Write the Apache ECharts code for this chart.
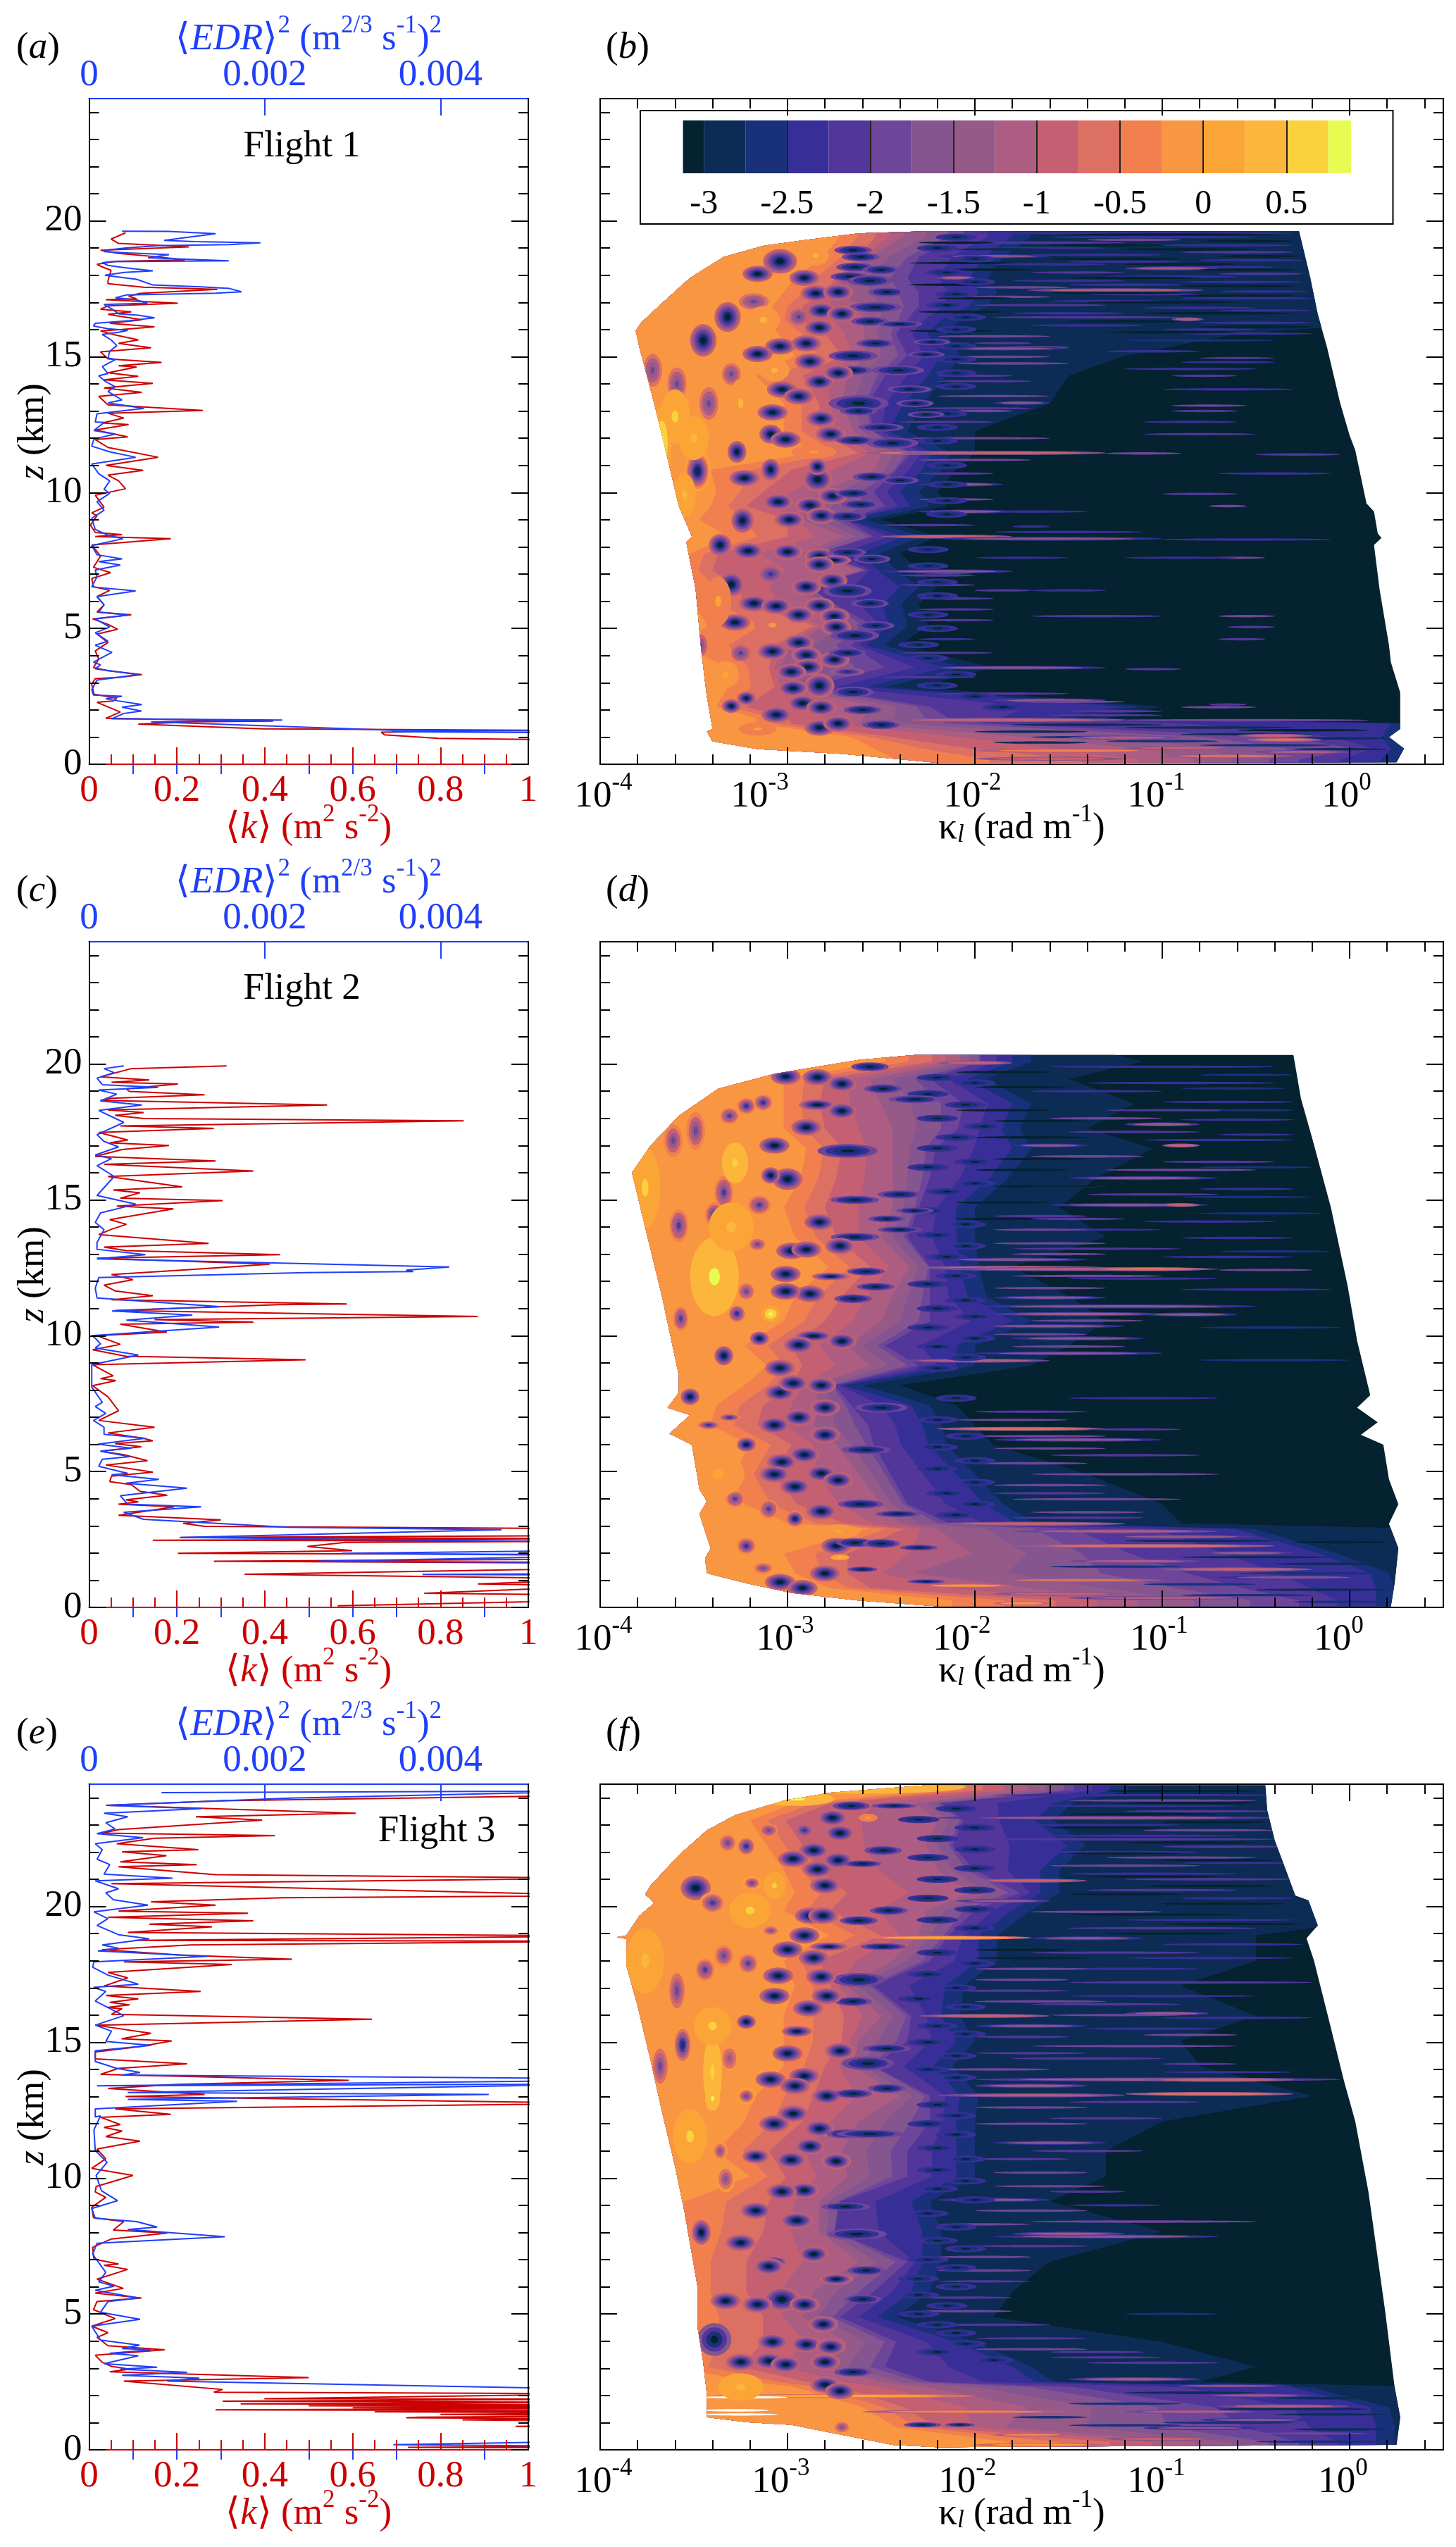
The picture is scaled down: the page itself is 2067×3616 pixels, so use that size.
<!DOCTYPE html><html><head><meta charset="utf-8"><style>html,body{margin:0;background:#fff}#c{width:2067px;height:3616px}</style>
<script src="https://cdn.jsdelivr.net/npm/echarts@6/dist/echarts.min.js"></script></head><body><div id="c"></div><script>
const levelColors=['#04222f','#0d2c55','#18317a','#372f97','#52369a','#6e4699','#84558f','#965a89','#ad5c82','#c56072','#dc7063','#f2804f','#f99642','#fca537','#fcb63c','#f9d23e','#e8fb52'];
const cbarEdges=[-3.125,-3,-2.75,-2.5,-2.25,-2,-1.75,-1.5,-1.25,-1,-0.75,-0.5,-0.25,0,0.25,0.5,0.75,0.888];
// left-hand profiles: flat lists of value, z. edr* are in units of 0.005 (full top axis)
const k1=[.083,19.56,.05,19.33,.067,19.17,.227,19.04,.026,18.92,.067,18.8,.16,18.67,.218,18.56,.06,18.51,.018,18.4,.026,18.33,.05,18.18,.043,17.8,.043,17.69,.124,17.56,.292,17.48,.116,17.33,.09,17.23,.108,17.13,.038,17.1,.202,16.97,.043,16.87,.026,16.75,.096,16.65,.043,16.56,.12,16.36,.047,16.23,.149,16.1,.075,16,.026,15.95,.059,15.8,.112,15.62,.067,15.49,.141,15.33,.026,15.18,.043,14.92,.165,14.79,.067,14.67,.108,14.62,.043,14.41,.112,14.28,.034,14.15,.145,14.02,.034,13.85,.12,13.69,.022,13.54,.043,13.23,.259,13.02,.043,12.92,.079,12.74,.03,12.56,.09,12.5,.014,12.3,.088,12.05,.014,11.95,.043,11.66,.157,11.3,.038,11,.123,10.82,.043,10.64,.067,10.43,.083,10.14,.014,9.9,.034,9.46,.006,9.25,.018,9.15,.003,8.8,.014,8.53,.075,8.45,.014,8.38,.186,8.3,.006,8.07,.026,7.66,.01,7.25,.049,7.05,.006,6.84,.01,6.53,.047,6.4,.018,6.17,.034,5.87,.018,5.6,.096,5.5,.008,5.35,.043,5.15,.065,4.97,.018,4.79,.043,4.48,.014,4.17,.022,3.87,.01,3.56,.043,3.44,.12,3.3,.071,3.2,.014,3.15,.006,2.94,.011,2.58,.063,2.43,.055,2.33,.018,2.28,.071,1.92,.038,1.69,.419,1.59,.235,1.56,.112,1.48,.394,1.3,1,1.25,.665,1.18,.673,1.08,.795,.95,1.2,.88];
const edr1=[.075,19.62,.18,19.61,.288,19.53,.171,19.28,.24,19.24,.39,19.19,.32,19.13,.157,19.09,.08,19,.038,18.92,.034,18.87,.087,18.82,.182,18.76,.134,18.64,.318,18.53,.05,18.5,.03,18.46,.043,18.36,.08,18.28,.145,18.16,.08,18.1,.036,18,.06,17.95,.108,17.85,.145,17.64,.255,17.57,.32,17.51,.347,17.39,.288,17.34,.084,17.27,.06,17.17,.108,17.09,.133,16.97,.034,16.92,.05,16.78,.067,16.58,.112,16.53,.149,16.43,.092,16.33,.014,16.23,.01,16.13,.043,16.03,.088,15.97,.067,15.9,.03,15.82,.05,15.62,.063,15.41,.047,15.2,.043,14.95,.06,14.9,.03,14.64,.043,14.38,.022,14.3,.038,14.08,.059,13.9,.043,13.72,.075,13.41,.043,13.3,.125,13.1,.018,12.9,.014,12.6,.034,12.58,.011,12.28,.059,12.15,.011,11.97,.006,11.71,.047,11.5,.106,11.3,.006,11.05,.022,10.69,.047,10.43,.034,10.12,.047,9.97,.018,9.66,.034,9.35,.006,9.05,.014,8.64,.043,8.43,.077,8.3,.006,8.05,.018,7.71,.075,7.56,.022,7.46,.071,7.33,.014,7.15,.018,6.9,.006,6.53,.106,6.38,.018,6.17,.034,5.87,.022,5.6,.088,5.49,.014,5.35,.047,5.05,.014,4.84,.043,4.53,.014,4.38,.052,4.12,.01,3.76,.026,3.66,.014,3.51,.112,3.3,.018,3.1,.006,2.74,.01,2.55,.075,2.5,.038,2.41,.067,2.33,.12,2.2,.075,2.1,.119,1.96,.079,1.87,.051,1.67,.44,1.63,.141,1.56,.69,1.25,1.2,1.22,1.2,1.15,.69,1.2];
const k2=[.313,19.93,.096,19.83,.026,19.53,.137,19.41,.051,19.33,.202,19.26,.084,19.09,.092,18.99,.263,18.87,.051,18.74,.026,18.66,.542,18.49,.043,18.31,.124,18.21,.059,18.11,.124,17.99,.853,17.91,.071,17.72,.284,17.63,.022,17.48,.088,17.2,.047,17.1,.182,17,.075,16.85,.014,16.6,.288,16.43,.034,16.31,.374,16.06,.043,15.86,.212,15.48,.055,15.36,.116,15.26,.071,15.06,.304,14.97,.063,14.77,.192,14.67,.047,14.27,.085,14.1,.051,13.92,.022,13.72,.272,13.4,.034,13.26,.084,13.13,.435,12.98,.018,12.85,.411,12.63,.247,12.45,.051,12.25,.1,12.06,.034,11.86,.059,11.65,.145,11.47,.051,11.32,.587,11.17,.431,11.14,.059,10.93,.885,10.71,.149,10.59,.374,10.5,.071,10.42,.177,10.13,.018,10,.071,9.68,.008,9.48,.084,9.24,.493,9.11,.008,8.93,.055,8.52,.026,8.42,.061,8.35,.008,8.16,.043,7.75,.067,7.24,.022,6.88,.149,6.63,.043,6.42,.124,6.22,.145,6.13,.059,6.03,.119,5.91,.026,5.75,.079,5.62,.133,5.4,.038,5.24,.145,4.98,.051,4.83,.047,4.63,.096,4.52,.116,4.27,.178,4.13,.084,3.96,.112,3.88,.067,3.8,.194,3.7,.067,3.39,.3,3.22,.214,3.09,.263,2.98,1.2,2.89,1.2,2.65,.206,2.57,1.2,2.53,.145,2.47,1.2,2.44,.583,2.39,.497,2.24,.599,2.09,.202,1.99,1.2,1.94,1.2,1.78,.284,1.7,1.2,1.62,1.2,1.45,.354,1.22,1.2,1.05,.885,.86,1.2,.8,.763,.52,1.2,.45,1.2,.27,.566,.06];
const edr2=[.079,19.93,.034,19.83,.057,19.68,.018,19.48,.03,19.24,.157,19.14,.022,19.04,.063,18.89,.026,18.64,.12,18.49,.022,18.29,.079,17.85,.018,17.4,.034,17.15,.067,16.95,.014,16.65,.051,16.52,.018,16.26,.057,15.86,.018,15.16,.106,14.84,.026,14.52,.014,14.17,.034,13.9,.018,13.43,.018,13.18,.128,12.98,.018,12.83,.82,12.53,.722,12.41,.738,12.36,.493,12.32,.022,12.14,.014,11.75,.018,11.39,.296,11.07,.052,10.91,.235,10.76,.085,10.57,.296,10.32,.006,10,.014,9.91,.026,9.7,.014,9.55,.112,9.29,.006,8.93,.006,8.37,.006,8.11,.03,7.55,.014,7.39,.038,7.14,.01,6.88,.034,6.63,.034,6.37,.127,6.22,.02,6.01,.096,5.86,.026,5.75,.093,5.55,.03,5.45,.022,5.19,.088,4.93,.051,4.88,.159,4.71,.084,4.57,.223,4.39,.071,4.11,.088,3.8,.255,3.7,.079,3.5,.124,3.24,.452,2.95,.939,2.86,.21,2.57,1.2,2.4,1.2,2.1,.575,1.99,1.2,1.9,.521,1.7,1.2,1.65,1.2,1.25,.759,1.21,1.2,1.19];
const k3=[1.2,24.1,.304,23.89,.043,23.72,.607,23.43,.243,23.3,.394,23.18,.067,22.83,.03,22.7,.423,22.61,.149,22.51,.063,22.31,.249,22.09,.075,22.01,.176,21.87,.071,21.64,.245,21.54,.067,21.46,.288,21.17,1.2,21.04,.051,20.84,1.2,20.4,.44,20.32,.141,20.17,.288,20.05,.067,19.83,.362,19.75,.043,19.6,.374,19.47,.137,19.35,.28,19.25,.088,19.04,1.2,18.91,.104,18.75,1.2,18.72,.231,18.58,.03,18.41,.206,18.21,.462,18.06,.079,17.96,.325,17.86,.043,17.57,.088,17.37,.034,17.07,.254,16.87,.038,16.72,.112,16.6,.047,16.47,.092,16.38,.041,16.28,.075,16.23,.051,16.03,.644,15.85,.014,15.63,.141,15.33,.074,15.13,.188,15.05,.116,14.84,.014,14.64,.014,14.39,.223,14.21,.067,14.04,.026,13.82,.591,13.6,.198,13.45,.043,13.3,.263,13.08,.083,13,1.2,12.75,.059,12.55,.186,12.35,.026,12.24,.071,11.97,.034,11.87,.075,11.73,.038,11.53,.116,11.36,.018,11.07,.038,10.71,.006,10.36,.1,10.1,.016,9.69,.014,9.49,.038,9.29,.006,8.93,.01,8.54,.079,8.4,.055,8.09,.178,7.98,.051,7.76,.008,7.45,.011,7.02,.067,6.84,.034,6.79,.088,6.64,.018,6.28,.078,5.94,.014,5.77,.119,5.59,.018,5.46,.01,5.16,.059,4.83,.006,4.55,.043,4.31,.018,4.14,.043,3.83,.172,3.68,.014,3.48,.03,3.22,.051,3.07,.092,2.97,.047,2.87,.5,2.66,.079,2.53,.304,2.22,.284,2.12,1.2,2.06,.399,1.88,1.2,1.86,.304,1.79,1.2,1.75,.345,1.69,1.2,1.66,.5,1.62,1.2,1.58,.6,1.55,1.2,1.52,.288,1.47,1.2,1.44,.65,1.4,1.2,1.36,.8,1.3,1.2,1.25,.75,1.2,.722,1.18,1.2,1.13,.85,1.1,1.2,1.05,1.2,.9,.971,.86,1.2,.84,1.2,.12,.726,.09,1.2,.07];
const edr3=[.165,24.19,1.2,24.25,.46,23.99,.038,23.72,.255,23.6,.034,23.43,.088,23.3,.038,23.08,.059,22.85,.018,22.68,.123,22.53,.014,22.31,.03,22.09,.018,21.74,.047,21.54,.034,21.19,.19,21.04,.014,20.94,.067,20.65,.038,20.5,.055,20.25,.134,20.05,.011,19.8,.043,19.55,.018,19.3,.067,18.96,.137,18.81,.03,18.58,.067,18.46,.02,18.36,.268,18.16,.011,17.96,.008,17.76,.043,17.47,.112,17.14,.01,17.02,.038,16.87,.014,16.52,.079,15.98,.014,15.63,.051,15.41,.038,15.03,.141,14.89,.014,14.69,.014,14.29,.063,14.04,.116,13.89,.075,13.79,1.2,13.66,1.2,13.6,.018,13.4,1.2,13.47,.088,13.15,.91,13.08,.088,12.9,.337,12.83,.014,12.55,.014,12.25,.026,12.29,.011,11.78,.014,11.02,.041,10.58,.016,10.1,.028,9.54,.065,9.17,.006,8.88,.014,8.52,.108,8.4,.155,8.2,.088,8.11,.309,7.84,.018,7.6,.008,7.2,.038,6.53,.022,6.18,.057,6.02,.014,5.87,.112,5.59,.043,5.46,.026,5.06,.116,4.8,.006,4.55,.026,4.04,.115,3.85,.075,3.73,.141,3.68,.047,3.55,.112,3.46,.034,3.17,.155,3.04,.071,2.97,.223,2.85,.075,2.74,.251,2.64,.178,2.53,1.2,2.22,1.2,.32,.693,.19,1.2,.12];
// spectra: rows are z, then log10(kappa) where the field falls through levels 12,10,8,5,3,1
const rowsB=[[20,-2.62,-2.53,-2.38,-2.02,-1.72,.5],[19.44,-2.62,-2.53,-2.38,-2.02,-1.72,.5],[18.67,-2.71,-2.62,-2.56,-2.26,-1.87,.5],[17.9,-2.86,-2.74,-2.71,-2.32,-1.95,.5],[17.38,-2.92,-2.8,-2.71,-2.26,-1.9,.5],[16.87,-2.98,-2.92,-2.62,-2.26,-1.95,.5],[16.36,-3.01,-2.92,-2.59,-2.32,-2.1,.5],[15.85,-2.95,-2.8,-2.59,-2.38,-2.17,-.6],[15.03,-2.86,-2.71,-2.59,-2.32,-2.1,-1.2],[14.3,-3.07,-2.92,-2.68,-2.44,-2.17,-1.5],[13.28,-2.92,-2.83,-2.71,-2.53,-2.3,-1.6],[12.26,-2.92,-2.83,-2.65,-2.5,-2.38,-2],[11.46,-2.77,-2.62,-2.5,-2.3,-2.15,-2],[10.84,-3.31,-2.98,-2.53,-2.38,-2.2,-2.1],[10.02,-3.28,-3.13,-2.83,-2.5,-2.32,-2.2],[9.5,-3.31,-3.22,-2.92,-2.44,-2.26,-2.15],[9,-3.37,-3,-2.92,-2.65,-2.6,-2.5],[8.38,-3.22,-3,-2.7,-2.5,-2.3,-2.2],[7.76,-3.42,-3.37,-2.92,-2.8,-2.53,-2.4],[7.15,-3.45,-3.4,-2.62,-2.56,-2.44,-2.3],[6.53,-3.4,-3.28,-2.92,-2.86,-2.32,-2.2],[5.9,-3.4,-3.22,-2.86,-2.71,-2.41,-2.3],[5.1,-3.33,-2.86,-2.8,-2.5,-2.38,-2.25],[4.38,-3.46,-3.07,-2.98,-2.62,-2.5,-2.4],[3.56,-3.22,-3.1,-3.04,-2.44,-2.08,-1.9],[2.84,-3.22,-3.07,-3,-2.86,-2.5,-2.3],[2.12,-3.28,-3.22,-2.53,-2.2,-1.13,-1],[1.7,-3.07,-3,-2.6,-2.1,-1.5,-1.3],[1.5,-3.07,-2.98,-2.62,-1.9,.3,.5],[1,-2.56,-2.44,-1.72,-.3,.25,.5],[.58,-2.44,-2.02,-1.13,.07,.3,.5],[.17,-2.32,-1.43,-.83,-.23,.25,.5],[0,-2.32,-1.43,-.83,-.23,.25,.5]];
const rowsD=[[20.5,-2.38,-2.23,-2.08,-1.93,-1.72,-1.35],[20.09,-2.38,-2.23,-2.08,-1.93,-1.72,-1.1],[19.45,-2.92,-2.8,-2.56,-2.2,-1.96,-1.5],[18.54,-2.92,-2.83,-2.5,-2.02,-1.72,-1.15],[17.63,-2.92,-2.8,-2.44,-2.05,-1.78,-1.4],[16.9,-2.8,-2.71,-2.44,-2.17,-1.72,-1.05],[15.81,-2.83,-2.74,-2.44,-2.2,-1.84,-1.35],[14.72,-2.92,-2.8,-2.44,-2.26,-2.02,-1.55],[13.63,-2.86,-2.74,-2.5,-2.32,-2.02,-1.3],[12.54,-2.68,-2.56,-2.35,-2.2,-2,-1.8],[11.45,-2.86,-2.71,-2.44,-2.2,-1.96,-1.5],[10.54,-2.92,-2.8,-2.5,-2.2,-1.72,-1.3],[9.63,-3.13,-2.98,-2.68,-2.44,-2.02,-1.5],[8.9,-3.01,-2.92,-2.56,-2.26,-2.02,-1.7],[8.17,-3.13,-2.98,-2.86,-2.71,-2.62,-2.4],[7.44,-3.28,-3.13,-2.83,-2.62,-2.26,-2.1],[6.71,-3.31,-3.16,-2.86,-2.53,-2.2,-2],[5.99,-3.1,-2.98,-2.74,-2.5,-2.17,-1.9],[4.9,-3.19,-3.07,-2.62,-2.41,-2.02,-1.4],[3.8,-3.13,-2.95,-2.5,-2.32,-1.87,-1],[3.1,-2.9,-2.7,-2.4,-2.1,-1.7,-.9],[2.89,-2.47,-2.38,-2.2,-1.43,-.53,.5],[1.98,-2.92,-2.68,-2.02,-1.13,-.08,.5],[1.26,-2.86,-2.68,-2.32,-.83,.19,.5],[.71,-2.68,-2.56,-1.72,-.53,.22,.5],[.25,-2.02,-1.57,-1.13,-.23,.22,.5],[0,-2.02,-1.57,-1.13,-.23,.22,.5]];
const rowsF=[[24.6,-2.08,-1.96,-1.72,-1.43,-1.2,.5],[24.28,-2.08,-1.96,-1.72,-1.43,-1.2,.5],[23.8,-2.86,-2.77,-2.32,-2.14,-1.5,.5],[23.17,-3.1,-3.01,-2.2,-2.02,-1.6,.5],[22.25,-3.01,-2.92,-2.26,-2.08,-1.43,.5],[21.33,-2.92,-2.83,-2.2,-1.96,-1.57,.5],[20.5,-2.86,-2.68,-2.02,-1.72,-1.57,.5],[19.85,-2.92,-2.77,-2.26,-1.96,-1.72,.5],[18.93,-2.68,-2.5,-2.3,-2.1,-1.9,-.5],[18,-2.92,-2.83,-2.44,-2.2,-1.9,-.5],[17.08,-2.86,-2.77,-2.68,-2.5,-2.08,-.9],[15.97,-2.92,-2.7,-2.5,-2.3,-2.1,-.5],[15.05,-2.92,-2.71,-2.62,-2.32,-2.02,-.9],[14.13,-2.92,-2.8,-2.65,-2.5,-2.14,-.8],[13.02,-3.07,-2.86,-2.4,-2.2,-2,-.2],[12.09,-3.13,-2.92,-2.62,-2.2,-2.02,-1],[10.99,-3.28,-3.1,-2.71,-2.32,-2.02,-1.3],[10.06,-3.1,-3.01,-2.68,-2.32,-2.02,-1.3],[9.14,-3.45,-3.1,-2.83,-2.68,-2.26,-1.6],[8.03,-3.48,-3.13,-2.83,-2.71,-2.2,-1],[6.92,-3.5,-3.22,-2.62,-2.32,-2.2,-1.6],[5.82,-3.5,-3.22,-2.86,-2.5,-2.26,-1.8],[4.89,-3.5,-3.13,-2.92,-2.68,-2.44,-1.9],[3.97,-3.5,-3.13,-2.68,-2.38,-2.02,-1],[3.05,-3.5,-3.25,-2.8,-2.44,-1.72,-.5],[2.5,-3.1,-2.9,-2.5,-2.2,-1.6,-.8],[2.31,-2.86,-2.71,-2.26,-1.43,-.23,.5],[1.57,-2.5,-2.38,-1.72,-.68,.19,.5],[.83,-2.32,-2.2,-1.84,-.53,.22,.5],[.28,-1.72,-1.28,-.83,-.23,.22,.5],[0,-1.72,-1.28,-.83,-.23,.22,.5]];
// outlines: log10(kappa), z from top to bottom
const leftB=[-2.26,19.62,-2.62,19.54,-2.92,19.28,-3.13,19.08,-3.34,18.67,-3.52,17.9,-3.67,16.97,-3.78,16.26,-3.81,15.95,-3.79,15.33,-3.75,14.3,-3.7,12.97,-3.64,11.25,-3.58,9.5,-3.51,8.38,-3.54,8.17,-3.49,6.43,-3.46,4.17,-3.43,2.48,-3.4,1.3,-3.43,1.2,-3.4,.84,-3.16,.56,-2.71,.38,-2.2,.05];
const rightB=[-.27,19.62,-.21,17.9,-.17,16.56,-.12,15.33,-.05,13.28,0,12.1,.03,11.56,.09,9.6,.13,9.3,.15,8.5,.17,8.33,.13,8.07,.16,6.43,.21,4.38,.22,3.76,.27,2.64,.27,1.3,.21,1,.29,.58,.25,.07];
const leftD=[-2.32,20.33,-2.62,20.15,-3.07,19.64,-3.37,19.09,-3.58,18.09,-3.73,17,-3.83,16,-3.76,14,-3.67,11.45,-3.58,8.54,-3.58,7.9,-3.64,7.35,-3.52,7.08,-3.63,6.39,-3.51,5.99,-3.47,4.35,-3.43,3.9,-3.47,3.44,-3.41,2.17,-3.44,1.8,-3.43,1.26,-3.22,.89,-2.98,.53,-2.62,.25,-2.2,.04];
const rightD=[-.3,20.33,-.26,18.73,-.2,17.27,-.1,14.72,-.01,11.81,.04,9.81,.11,7.81,.04,7.35,.15,6.81,.06,6.35,.18,5.99,.21,4.71,.26,3.8,.21,3.08,.26,2.17,.24,.89,.22,.04];
const leftF=[-2.26,24.46,-2.77,24.19,-3.01,23.91,-3.28,23.36,-3.43,22.8,-3.58,21.88,-3.73,20.77,-3.76,20.44,-3.71,20.13,-3.79,19.66,-3.86,18.93,-3.91,18.87,-3.86,18.8,-3.86,17.82,-3.8,16.34,-3.73,14.31,-3.67,12.46,-3.6,10.43,-3.55,8.77,-3.48,6,-3.48,4.52,-3.45,3.23,-3.43,2.03,-3.43,1.2,-3.22,1.02,-2.98,.92,-2.71,.55,-2.44,.18,-2.2,.1];
const rightF=[-.45,24.46,-.44,23.54,-.4,22.43,-.34,21.33,-.29,20.4,-.22,20.22,-.17,19.3,-.23,18.83,-.19,18,-.11,15.8,-.03,13.57,.03,12.09,.1,9.51,.19,5.08,.24,2.31,.27,1.2,.25,.18];
// spots: log10(kappa), z, and optionally half-widths and the levels from rim to core
const spotsB=[[-3.04,18.51,.09,.45],[-3.16,18.05],[-2.91,17.9],[-2.85,17.33],[-2.73,17.38],[-3.18,17.03,0,0,10,5],[-3.32,16.46,.07,.55],[-3.45,15.6,.07,.6],[-3.04,15.38],[-2.9,15.49],[-3.16,15.1],[-2.88,14.82],[-3.72,14.5,.05,.6,10,5],[-3.59,14,.05,.6,10,5],[-3.3,14.36,.05,.4,10,5],[-2.83,14.08],[-3.03,13.79],[-2.94,13.54],[-3.42,13.28,.05,.6,10,5],[-3.08,12.95],[-2.82,12.72],[-3.09,12.15,.06,.35],[-2.65,18.92],[-2.61,18.67],[-2.64,18.3],[-2.5,18.2],[-2.67,17.95],[-2.56,17.8,.12,.2],[-2.47,17.38],[-2.53,16.82,.14,.18],[-2.82,16.69],[-2.71,16.58],[-2.94,16.46,.05,.3,9,4],[-2.83,16.07],[-2.56,16.3],[-2.4,16.2,.12,.12],[-2.53,15.49],[-2.23,15.54,.1,.12],[-2.65,15.03,.13,.2],[-2.26,15.08,.1,.12],[-2.65,14.5],[-2.73,14.4],[-2.41,14.5,.14,.18],[-2.35,13.8,.12,.14],[-2.62,13.28,.16,.3],[-2.32,13.28,.1,.14],[-2.62,13],[-2.26,12.87,.1,.12],[-3.01,11.95],[-2.77,12.15],[-2.64,11.92],[-2.44,11.82,.14,.2],[-2.5,12.4,.12,.15],[-3.27,11.5,.05,.4],[-3.48,10.79,.07,.75,13,1],[-3.23,10.53],[-3.09,10.84,.05,.4],[-2.84,10.48,.08,.45],[-2.84,10.95,.05,.3],[-2.55,10.58],[-2.4,10.45,.1,.14],[-2.76,9.87],[-2.65,9.97],[-3.05,9.66],[-2.88,9.53],[-2.61,9.56],[-2.82,9.15],[-2.68,9.12,.1,.18],[-2.99,9],[-3.24,8.97,.06,.45],[-3.36,8.07,.06,.4],[-3.21,7.85],[-3,7.82],[-2.83,7.66],[-2.68,7.8],[-2.75,7.51,.09,.18],[-2.55,7.55],[-2.83,7.35],[-3.09,7,.06,.3,8,3],[-3.3,6.62,.07,.45],[-2.9,6.53],[-2.76,6.76],[-2.68,6.38,.13,.25],[-2.56,5.92],[-3.18,5.92],[-3.06,5.82],[-2.83,5.84],[-2.94,5.5],[-2.75,5.45],[-3.28,5.22],[-2.74,5.05],[-2.53,5.1,.1,.16],[-2.64,4.74,.13,.22],[-2.94,4.48],[-3.08,4.15],[-3.25,4.09,.05,.3,9,4],[-3.46,4.38,.03,.4,9,5],[-2.9,4.02],[-2.75,3.85],[-2.68,4.1],[-2.89,3.58],[-2.98,3.4],[-2.68,3.4,.09,.15,7,2],[-2.83,2.89,.08,.45],[-2.65,2.66,.11,.2],[-2.97,2.8],[-3.22,2.43,.05,.25],[-3.3,2.14,.05,.25],[-2.92,2.25],[-2.82,2.09],[-2.6,2],[-3.06,1.82],[-2.83,1.35],[-2.73,1.5],[-2.5,1.45],
[-2.85,18.72,.07,.35,12,14],[-3.13,16.36,.09,.5,12,14],[-3.07,14.5,.08,.4,12,14],[-3.25,13.28,.06,.9,12,14],[-3.6,12.8,.08,1,13,15],[-3.5,12,.08,.8,13,14],[-3.67,11.8,.05,1.4,13,16],[-2.86,11.5,.12,.25,11,12],[-3.08,5.12,.1,.4,10,12],[-3.37,6,.07,.9,11,13],[-3.33,3.3,.07,.5,12,13],[-3.16,1.3,.1,.25,11,13],[-3.55,9.9,.06,.8,13,14]];
const spotsD=[[-3.22,18.45,.05,.3,11,3],[-3.13,18.58,.05,.3,11,3],[-3.31,18.09,.05,.3,11,4],[-3.01,19.54],[-2.84,19.51],[-2.71,19.27],[-2.56,19.9],[-2.49,19.09],[-2.32,18.7,.14,.14],[-2.84,18.5,.1,.2],[-2.71,18.27],[-3.49,17.54,.05,.7,11,5],[-3.61,17.18,.05,.6,11,5],[-2.9,17.67],[-3.07,17],[-2.68,16.8,.16,.25],[-3,15.76,.08,.4],[-3.09,15.9,.05,.3],[-3.34,15.27,.05,.6,11,4],[-3.39,14.45,.05,.45,11,3],[-3.15,14.81,.06,.35,11,4],[-3.58,14.05,.05,.6,11,4],[-2.64,15,.13,.15],[-2.4,15.2,.12,.15],[-2.83,14.18],[-2.64,13.63,.13,.15],[-3.16,13.36,.05,.25,12,5],[-2.98,13.12],[-2.9,13.17],[-2.72,13.3],[-2.47,14.3,.1,.12],[-2.32,14.6,.1,.12],[-2.4,13.9,.12,.12],[-3.01,12.27],[-2.77,12.18,.1,.14],[-2.58,12.36,.1,.14],[-3.22,11.63,.05,.35,12,5],[-2.88,11.54],[-3.01,11.63],[-2.53,11.8,.1,.14],[-2.65,11.36],[-3.27,10.81,.05,.35,12,3],[-3.57,10.63,.04,.45,11,4],[-3.15,9.9,.05,.25],[-2.86,9.99,.1,.2],[-2.71,9.8],[-2.94,9.66],[-3.34,9.26,.05,.35],[-3.04,8.81],[-2.82,8.17],[-3.04,7.9],[-2.97,8.25],[-3.52,7.75,.05,.3],[-2.5,7.35,.14,.18],[-2.8,7.35],[-2.94,6.99],[-3.07,6.71],[-3.42,6.71,.06,.16,11,3],[-3.31,6.99,.06,.14,11,3],[-2.8,6.35],[-3.22,5.99,.05,.25],[-2.58,5.8,.13,.16],[-2.91,5.62],[-3.03,5.35],[-3.07,4.9],[-2.82,4.93],[-2.96,4.44],[-2.73,4.68],[-2.61,3.8,.12,.16],[-3.28,3.99,.05,.3,11,4],[-3.1,3.62,.05,.35,11,4],[-2.82,3.53],[-2.96,3.26,.05,.3,11,1],[-2.41,3.44,.12,.12],[-3.22,2.26,.05,.3,11,3],[-2.74,2.26],[-2.64,2.38],[-2.5,2.35],[-3.04,.93],[-2.92,.71],[-3.13,1.44,.05,.2,11,5],[-2.8,1.25],[-2.26,.95,.1,.08],[-2.6,1.4,.08,.1],[-2.3,2.2,.1,.1],
[-3.76,15.45,.08,1.5,13,15],[-3.28,16.36,.07,.75,14,15],[-3.39,12.17,.13,1.45,14,16],[-3.09,10.8,.05,.3,13,16],[-3.37,4.9,.14,.8,12,13],[-2.73,2.8,.12,.25,12,13],[-2.72,1.84,.05,.1,13,15],[-3.3,14,.12,.9,13,14]];
const spotsF=[[-3.32,22.34,.05,.35,12,5],[-3.22,22.21,.05,.35,12,3],[-3.1,22.8,.05,.25,11,5],[-2.91,22.8,.05,.25,9,3],[-2.76,23.26],[-2.72,22.7],[-2.66,23.7],[-2.43,23.7,.12,.1],[-2.86,22.06],[-2.97,21.75],[-2.73,21.7],[-2.6,21.57,.1,.12],[-2.49,22.06],[-2.84,21.36],[-3.19,20.86,.05,.25,13,5],[-3.49,20.68,.08,.45],[-3.4,20.13,.07,.4,12,4],[-2.8,20.77],[-2.88,19.66],[-2.81,19.66],[-2.62,19.48],[-2.46,19.85],[-3.09,19.11,.05,.2,12,6],[-2.91,18.93],[-3,18.41],[-2.78,18.52,.1,.15],[-2.49,18.52,.12,.12],[-3.34,18.19,.05,.4,11,5],[-3.44,17.67,.05,.4,11,4],[-3.21,17.9,.05,.35,11,4],[-3.05,17.45],[-2.86,18.1],[-2.62,17.3,.14,.25],[-2.82,17.41],[-3.07,16.7],[-3.59,16.9,.05,.8,12,5],[-2.65,16.5],[-2.79,16.7],[-3.22,15.75,.05,.25],[-2.89,16.25],[-2.95,15.4,.08,.2],[-3.56,14.9,.05,.7,12,2],[-2.72,14.68],[-3,14.59],[-3.68,14.12,.05,.8,12,5],[-3.31,14.4,.05,.5,12,7],[-2.47,14.77,.13,.15],[-2.57,14.22,.14,.25],[-3.09,13.63],[-2.91,13.76],[-2.96,13.39],[-2.79,13.02],[-3.22,13.02,.05,.3,13,5],[-2.47,13.3],[-2.65,13.11],[-3.07,12],[-2.97,12.37],[-2.83,11.82],[-2.69,11.63],[-2.56,11.63,.18,.15],[-3.36,10.99,.04,.35,12,6],[-3.17,10.8,.07,.25],[-2.98,10.67],[-2.88,11.17],[-2.74,10.62],[-3.33,9.97,.05,.5,12,6],[-2.91,9.55],[-3.03,9.5],[-3.17,8.8],[-2.95,8.44,.09,.3],[-3.46,8,.05,.45],[-2.69,8.95,.13,.15],[-2.63,7.94,.16,.2],[-3.25,7.62],[-3.07,6.92,.07,.2],[-3.1,6.75],[-2.86,7.2],[-2.74,6.28,.09,.2],[-2.58,6.6],[-3.03,5.54,.1,.45],[-3.16,5.35],[-3.33,5.48],[-2.91,5.35],[-2.81,4.62],[-2.6,5.54],[-3.39,4.06,.09,.6,6,0],[-3.08,3.97],[-2.9,3.88],[-2.77,3.79],[-3.25,3.23],[-3.1,3.27],[-3.01,3.14],[-2.8,3.23],[-2.65,2.86],[-2.8,2.4],[-2.72,2.16],[-2.71,.83,.05,.25,12,6],[-2.28,.92,.1,.1],[-2.08,.92,.08,.08],
[-2.6,24.4,.55,.25,14,16],[-2.95,23.95,.2,.25,14,16],[-3.07,20.77,.06,.5,13,15],[-3.2,19.85,.11,.65,13,15],[-3.4,13.9,.05,1.3,14,15],[-3.4,12.93,.04,.45,14,16],[-3.52,11.54,.09,1,13,15],[-3.4,15.6,.1,.7,13,15],[-3.25,2.31,.12,.5,13,14],[-3.76,18,.1,1.2,13,14],[-2.57,23.26,.05,.15,11,13]];
// dark holes along the edge of the purple zone: log10(kappa), z
const holesB=[[-2.1,19.4],[-2.2,19],[-2,18.6],[-2.15,18.1],[-2,17.75],[-2.1,17.3],[-2.15,16.9],[-2.05,16.45],[-2.1,16],[-2.1,15.4],[-2.1,14.9],[-2.1,14.4],[-2.1,13.9],[-2.15,12.9],[-2.2,12.4],[-2.2,11.9],[-2.15,11],[-2.15,10.3],[-2.15,9.7],[-2.15,9.2],[-2.25,7.9],[-2.25,7.3],[-2.2,6.7],[-2.2,6.2],[-2.25,5.5],[-2.2,5],[-2.3,4.4],[-2.25,3.9],[-2.1,3.3],[-2.2,2.9],[-2,2.5],[-1.85,2.1]];
const holesD=[[-2.2,19.5],[-2,19.3],[-2.25,18.9],[-2.05,18.5],[-2.2,18],[-1.95,17.7],[-2.1,17.3],[-2.2,16.9],[-2,16.4],[-2.25,16.2],[-2,15.6],[-2.15,15.3],[-2.25,14.6],[-2.05,14.1],[-2.2,13.7],[-2.05,13.3],[-2.15,12.9],[-2.1,12.2],[-2.25,11.9],[-2.05,11.3],[-2.2,11],[-2,10.7],[-2.25,10.3],[-2,9.9],[-2.2,9.6],[-2.05,9.2],[-2.2,8.8],[-2.1,7.7],[-2.2,6.9],[-2.05,6.3],[-2.2,5.9],[-2,5.4],[-2.2,5.1],[-2,4.6],[-2.15,4.2],[-2,3.8],[-2.1,3.4]];
const holesF=[[-2.1,23.6],[-2.3,23.2],[-2,22.9],[-2.2,22.5],[-2,22.1],[-2.25,21.8],[-2,21.4],[-2.2,21],[-2,20.6],[-2.25,20.3],[-2,19.9],[-2.2,19.5],[-2,19.2],[-2.2,18.3],[-2,17.9],[-2.25,17.5],[-2.1,17],[-2.3,16.6],[-2.05,16.3],[-2.2,15.6],[-2.05,15.3],[-2.25,15],[-2.1,14.5],[-2.25,14],[-2.1,13.7],[-2.2,12.7],[-2.1,12.3],[-2.25,12],[-2.1,11.6],[-2.2,11.1],[-2.05,10.7],[-2.2,10.3],[-2.05,9.9],[-2.2,9.6],[-2,9.2],[-2.25,8.7],[-2.1,8.2],[-2.2,7.7],[-2.05,7.4],[-2.25,7],[-2.1,6.7],[-2.3,6.3],[-2.1,6],[-2.3,5.7],[-2.15,5.3],[-2.3,5],[-2.2,4.6],[-2.1,4.3],[-2.05,3.9],[-2.2,3.6],[-1.9,3.3]];
// streaks: log10(kappa) from, to, z, level (-1 = gap)
const streaksB=[[-2,-.3,19.55,3],[-1.6,-.5,19.4,3],[-1.4,-.9,19.3,5],[-2,-1.2,19.2,4],[-1,-.3,19.1,3],[-1.9,-1.3,19,3],[-.9,-.3,18.85,4],[-1.7,-1,18.75,3],[-2.2,-1.6,18.7,6],[-.8,-.25,18.55,3],[-1.5,-.9,18.5,3],[-1.9,-1.3,18.4,3],[-1,-.4,18.3,3],[-1.2,-.7,18.25,7],[-1.7,-1.2,18.1,4],[-.7,-.25,18.05,4],[-1.3,-.6,17.95,3],[-2.2,-2,17.9,8],[-1.8,-1.2,17.8,3],[-.9,-.25,17.75,3],[-1.5,-.9,17.65,3],[-2,-1.5,17.55,5],[-1.72,-.78,17.45,8],[-.7,-.22,17.4,3],[-1.4,-.8,17.3,3],[-2.1,-1.6,17.2,5],[-.9,-.2,17.15,3],[-1.6,-1,17.05,3],[-2,-1.3,16.9,4],[-1.1,-.5,16.8,3],[-.7,-.2,16.7,3],[-1.8,-1.2,16.6,3],[-1.9,-.9,16.45,4],[-.95,-.78,16.38,8],[-.8,-.2,16.25,3],[-1.7,-1.1,16.15,3],[-1,-.5,16,3],[-.9,-.2,15.85,3],[-2,-1.7,15.5,4],[-1.9,-1.5,15.35,5],[-1.3,-.8,15.2,3],[-2.1,-1.6,15,5],[-.8,-.4,14.95,4],[-1.2,-.5,14.55,3],[-.95,-.6,14.3,4],[-2.2,-1.8,14.3,4],[-1.9,-1.6,13.3,6],[-.95,-.55,13.2,5],[-.95,-.6,13,4],[-2.1,-1.8,13,5],[-2.6,-1.9,11.46,10],[-2.4,-1.3,11.46,9],[-1.3,-.9,11.44,5],[-.5,-.05,11.4,4],[-1.1,-.5,12.15,4],[-1,-.6,9.95,4],[-.75,-.55,9.5,5],[-2,-1.4,9.3,3],[-1.8,-1.6,8.75,3],[-2.5,-1.8,8.38,9],[-2.2,-1,8.3,6],[-1.9,-1.1,8.55,3],[-1,-.1,8.27,3],[-2,-1.5,7.6,3],[-.75,-.45,7.6,5],[-1.2,-.6,7.6,3],[-2.3,-2,7.05,6],[-2,-1.7,6.4,4],[-1.7,-1.3,6.4,3],[-1.7,-1,5.45,4],[-.7,-.4,5.45,5],[-.65,-.4,5.05,4],[-.7,-.45,4.6,4],[-2.3,-1.3,3.55,6],[-1.2,-.9,3.5,4],[-1.9,-1.3,2.35,7],[-.9,-.5,2.1,5],[-.75,-.55,2.2,4],[-1.5,-1,1.95,4],[-2.5,-1.2,1.63,9],[-1.2,.1,1.62,5],[-1.8,-1,1.45,1],[-1.2,-.3,1.35,1],[-.6,.1,1.25,0],[-2,-1.4,1.2,1],[-.9,-.2,1.1,1],[-1.7,-1,1,2],[-.4,.2,.95,1],[-1.3,-.7,.85,2],[-1.9,-1.4,.8,1],[-.8,-.1,.7,2],[-.3,.2,.55,1],[-.6,-.2,1.05,9],[-.55,-.15,.9,10],[-1.2,-.6,.6,9],[-2,-1,.5,11],[-1,-.3,.3,10],[-2,-1.2,.2,9],[-.5,0,.45,8],[-1.5,-.9,.98,8]];
const fingersB=[[-2.3,-1.9,19.2,0],[-2.1,-1.6,18.95,1],[-2.35,-1.8,18.45,0],[-2.2,-1.7,18.2,0],[-2.35,-1.9,17.65,0],[-2.2,-1.8,17.15,0],[-2.3,-1.85,16.65,0],[-2.35,-1.9,15.95,0],[-2.2,-1.6,15.75,5],[-2.2,-1.5,15.3,6],[-2.1,-1.5,14.75,5],[-2.2,-1.7,14.1,4],[-2.2,-1.6,13.55,5],[-2.3,-1.7,13.1,4],[-2.4,-1.9,12.6,4],[-2.35,-1.6,12,5],[-2.3,-1.7,11.2,5],[-2.3,-1.9,10.7,4],[-2.3,-1.85,10.3,6],[-2.3,-1.9,9.75,5],[-2.3,-1.8,9.3,6],[-2.5,-2,8.8,4],[-2.5,-1.8,7.1,6],[-2.4,-2,6.95,4],[-2.4,-2,6.6,4],[-2.3,-1.9,6.1,4],[-2.3,-1.9,5.7,4],[-2.3,-1.9,5.3,4],[-2.3,-2,4.6,3],[-2.4,-1.9,4.1,4],[-2.5,-2,3.2,4],[-2.2,-1.5,2.6,4],[-1.8,-1.2,2.3,5],[-1.6,-1,1.8,4],[-2.1,-1.5,2.75,0],[-1.5,-.4,19.5,0],[-.8,-.3,19.25,0],[-1.6,-1,19.1,0],[-1.2,-.5,18.95,0],[-.7,-.27,18.7,0],[-1.6,-.9,18.6,0],[-1.2,-.6,18.4,0],[-.8,-.3,18.2,0],[-1.5,-.8,17.9,0],[-.9,-.3,17.6,0],[-1.6,-.9,17.35,0],[-.9,-.3,17.25,0],[-1.4,-.6,17,0],[-1.1,-.3,16.6,0],[-1.5,-.9,16.3,0],[-.8,-.2,16.1,0],[-1.3,-.6,15.9,0],[-1.2,-.4,15.6,2],[-.9,-.4,14.8,3],[-1,-.3,13.8,3],[-1.1,-.6,12.6,3],[-.7,-.1,10.7,3]];
const streaksD=[[-2.2,-1.8,20.04,9],[-2.3,-1.3,12.5,9],[-2.2,-.7,12.45,8],[-1.4,-.75,12.45,10],[-.7,-.2,12.42,5],[-1.8,-1.4,17,6],[-1,-.8,17,9],[-1.2,-.8,17.78,7],[-1.6,-.75,14.81,6],[-1,-.8,14.81,9],[-1.5,-.7,15.8,6],[-2,-.5,11.08,6],[-1.9,-1,10.8,7],[-1.1,-.6,10.78,6],[-2,-1.2,10.35,6],[-1.8,-1.1,9.9,6],[-2,-1,9.35,6],[-2.4,-1.6,9.08,8],[-2.2,-1.3,6.57,10],[-1.4,-.9,6.55,4],[-1.5,-.7,7.7,3],[-1.9,-1,6.17,6],[-1.6,-.8,5.6,4],[-1.7,-.7,4.9,5],[-1.8,-.9,3.98,5],[-2.2,-1.2,3.08,9],[-1.6,-.4,19.9,3],[-1.4,-.4,19.3,3],[-1.7,-1,19,3],[-1,-.3,18.6,3],[-1.3,-.6,18.3,4],[-1.6,-1,18,5],[-.9,-.3,17.95,3],[-1.5,-.8,17.5,4],[-.7,-.3,17.4,3],[-1.7,-1.1,16.6,5],[-1,-.4,16.4,4],[-1.3,-.5,16.1,5],[-1.8,-1.3,15.5,5],[-.8,-.3,15.4,3],[-1.4,-.7,15.2,4],[-1.9,-1.4,14.4,4],[-1.1,-.4,14.2,3],[-1.7,-1,13.9,3],[-.9,-.3,13.6,3],[-1.8,-.9,13.2,4],[-1,-.3,12.9,3],[-1.5,-.7,12.1,3],[-1.8,-.7,2.8,8],[-1.8,-.4,2.26,10],[-1.3,-.5,2.6,7],[-.8,-.3,2,7],[-1.5,-.8,1.7,8],[-1,-.2,1.4,9],[-1.9,-1,1,10],[-2.3,-1.8,.8,12],[-.7,.1,1.1,6],[-1.9,-1.2,.5,9],[-1.9,-1.6,.15,12],[-1.5,-.5,.35,8],[-1.2,-.4,2.45,1],[-.3,.2,2.4,0],[-.9,-.1,1.85,1],[-.4,.2,1.6,1],[-1.6,-.9,1.5,2],[-.6,.2,1.25,2],[-1.1,-.5,.85,2],[-.5,.2,.65,1],[-.9,-.2,.45,2],[-.3,.2,.2,2]];
const fingersD=[[-2.1,-1.6,19.7,0],[-2,-1.5,19.15,0],[-2.1,-1.6,18.3,0],[-1.9,-1.4,17.9,0],[-2,-1.4,17.3,0],[-1.9,-1.4,16.5,0],[-2,-1.5,16.1,0],[-1.9,-1.3,15.5,0],[-2.1,-1.6,14.9,0],[-2.1,-1.6,14.3,0],[-1.7,-1.2,14.3,4],[-1.9,-1.4,13.9,5],[-1.9,-1.3,13.4,5],[-1.8,-1.3,13,5],[-2.2,-1.4,12.8,6],[-1.8,-1,12.2,5],[-1.9,-1.3,11.75,5],[-1.9,-1.3,11.4,6],[-1.7,-1.1,10.55,5],[-1.9,-1.4,10.05,5],[-1.8,-1.2,9.6,5],[-2,-1.4,7.2,4],[-2.1,-1.5,6.9,5],[-2,-1.3,6.3,5],[-1.9,-1.3,5.85,5],[-2,-1.4,5.3,5],[-1.9,-1.3,4.5,5],[-1.9,-1.3,4.2,4],[-1.7,-1.1,3.5,5],[-1.8,-1.1,3.3,4],[-.8,-.3,19.6,2],[-.9,-.35,19.1,2],[-.7,-.3,18.3,2],[-1.1,-.3,17.2,3],[-.8,-.2,16.2,2],[-.9,-.2,15.1,2],[-.8,-.15,14.5,2],[-.7,-.1,13.1,2],[-.9,-.1,11.7,3],[-.8,-.05,10.3,2],[-.8,0,9.1,2]];
const streaksF=[[-2.6,-1.7,18.85,13],[-1.7,-1.1,18.83,6],[-2,-.05,13.63,7],[-1.1,-.3,13.62,9],[-1.2,-.3,13.1,10],[-2.2,-1.2,13.05,8],[-2.3,-1.6,15.97,9],[-1.2,-.75,16.06,7],[-1.6,-.9,16,5],[-1.1,-.6,15.27,5],[-1.7,-.6,14.86,5],[-1,-.6,14.2,4],[-1.7,-.5,8.4,5],[-1.9,-.7,7.85,6],[-1.8,-1.2,7.95,7],[-2.2,-.4,23.26,7],[-2,-.4,22.47,4],[-1.6,-.8,21.5,5],[-2,-1.4,20.95,9],[-2.1,-1.6,20.2,7],[-1.7,-1,19.8,5],[-1.5,-.2,17.2,4],[-1.9,-.4,24.1,3],[-1.5,-.5,23.9,5],[-1.7,-.6,23.7,3],[-1.2,-.4,23.5,4],[-1.8,-.9,23,3],[-1.1,-.4,22.8,5],[-1.6,-.6,22.6,3],[-1,-.35,22.2,4],[-1.7,-.8,22,3],[-1.3,-.5,21.8,5],[-.9,-.3,21.6,3],[-1.5,-.6,21.2,3],[-1.2,-.3,21,4],[-1.4,-.6,20.6,4],[-.9,-.3,20.3,3],[-1.2,-.3,19.5,3],[-1.5,-.5,19.2,4],[-1,-.25,18.6,3],[-1.7,-.8,18.3,4],[-1.2,-.3,18.1,3],[-1.6,-.8,17.7,3],[-1.5,-.5,16.7,3],[-1.7,-.9,16.4,4],[-1,-.2,15.9,3],[-1.4,-.7,15.5,3],[-1.8,-1,14.4,4],[-1,-.3,13.9,3],[-1.5,-.8,12.8,4],[-1.6,-1,12.2,4],[-1.7,-1.1,11,4],[-1.6,-1.2,9.5,4],[-1.5,-1,9,3],[-1.2,-.7,5,2],[-1.6,-1.1,3.6,4],[-1.4,-.7,3.2,4],[-3.4,-2,1.98,13],[-1.5,-.8,2.6,7],[-1,-.3,2.35,6],[-.8,-.2,2,7],[-.7,0,1.6,8],[-1.2,-.5,1.4,8],[-2.6,-1.5,1.4,11],[-.8,-.2,1.1,6],[-1.9,-1.5,.55,11],[-1.1,-.5,.8,6],[-2,-1.3,.18,12],[-1.3,-.7,.4,9],[-.5,.1,.6,5],[-1.2,-.5,2.1,1],[-.4,.2,1.9,1],[-1.5,-.9,1.7,2],[-.7,.1,1.5,1],[-.4,.2,1.3,1],[-1,-.3,1,2],[-.3,.2,.75,1],[-1.5,-.9,.9,2],[-.5,.2,.3,2],[-1.8,-1.4,1.2,2],[-3.45,-3,1.93,-1],[-3.45,-3.1,1.45,-1],[-3.45,-3.05,1.3,-1]];
const fingersF=[[-1.3,-.5,24.25,0],[-1.2,-.5,23.8,0],[-1.5,-.7,23.4,0],[-1,-.45,23.1,0],[-1.6,-1,22.9,0],[-1.2,-.5,22.35,0],[-1.5,-.9,21.95,0],[-1,-.4,21.7,0],[-1.4,-.7,21.1,0],[-1.1,-.4,20.75,0],[-1.5,-.9,20.45,0],[-1,-.35,20.1,0],[-1.5,-.6,19.7,0],[-1,-.25,19.35,0],[-1.3,-.6,19,0],[-2,-1.5,18.4,0],[-2,-1.4,18.1,0],[-2,-1.4,17.7,5],[-2,-1.5,17.3,5],[-2.1,-1.5,16.9,4],[-2,-1.3,16.5,5],[-2,-1.4,15.6,6],[-2,-1.5,15.2,4],[-2,-1.4,14.6,4],[-2.2,-1.6,14,5],[-2,-1.4,13.4,7],[-2,-1.4,12.6,5],[-2,-1.4,12,5],[-1.9,-1.3,11.3,6],[-2,-1.5,10.7,4],[-1.9,-1.4,10.2,5],[-1.9,-1.3,9.7,5],[-2.2,-1.6,9.2,6],[-2,-1.4,8.8,5],[-2.2,-1.7,8.3,5],[-2,-1.4,7.5,4],[-2.2,-1.7,7.1,5],[-2.2,-1.7,6.6,5],[-2.2,-1.7,6.2,4],[-2.3,-1.8,5.6,4],[-2.3,-1.8,5.1,5],[-2.2,-1.6,4.6,4],[-2,-1.4,4.1,4],[-2,-1.4,3.7,5],[-1.6,-1,3.4,4]];
const tickExponents=['-4','-3','-2','-1','0'];
const F='Liberation Serif',RED='#cc0000',BLUE='#1f3ffa';
const grids=[],xA=[],yA=[],series=[],graphic=[];
const rng=(a,b,s,skip)=>{const o=[];for(let v=a;v<=b+1e-9;v+=s){const r=+v.toFixed(6);if(!skip||!skip(r))o.push(r)}return o};
const pairs=(f,sc)=>{const o=[];for(let i=0;i<f.length;i+=2)o.push([f[i]*(sc||1),f[i+1]]);return o};
const holeSpots=h=>h.map(q=>[q[0],q[1],.11,.13,3,0]);
function txt(fs,c){return {a:{fontFamily:F,fontSize:fs,color:c,lineHeight:64,verticalAlign:'bottom'},i:{fontFamily:F,fontStyle:'italic',fontSize:fs,color:c,lineHeight:64,verticalAlign:'bottom'},s:{fontFamily:F,fontSize:35,color:c,lineHeight:24,verticalAlign:'top'},u:{fontFamily:F,fontStyle:'italic',fontSize:35,color:c,lineHeight:24,verticalAlign:'bottom'}}}
function xAxisBase(g,pos,c,extra){return Object.assign({gridIndex:g,type:'value',position:pos,z:5,nameMoveOverlap:false,axisLine:{show:true,onZero:false,lineStyle:{color:c,width:2}},splitLine:{show:false},axisLabel:{show:false},axisTick:{show:true,inside:true,length:24,lineStyle:{color:c,width:2}}},extra)}
function yAxes(g,labels){const major=[0,5,10,15,20],minor=rng(1,24,1,v=>v%5===0);
 const base=(pos,vals,len,lab)=>({gridIndex:g,type:'value',position:pos,min:0,max:24.5,z:6,nameMoveOverlap:false,axisLine:{show:true,onZero:false,lineStyle:{color:'#000',width:2}},splitLine:{show:false},
 axisTick:{show:true,inside:true,length:len,customValues:vals,lineStyle:{color:'#000',width:2}},axisLabel:lab?{show:true,customValues:major,fontFamily:F,fontSize:53,color:'#000',margin:10}:{show:false}});
 const l=base('left',major,24,labels);if(labels){l.name='{i|z}{a| (km)}';l.nameLocation='middle';l.nameGap=53;l.nameTextStyle={rich:txt(53,'#000')}}
 yA.push(l,base('left',minor,14),base('right',major,24),base('right',minor,14));return yA.length-4}
function leftPanel(top,kD,eD,lab,fl){const g=grids.length;grids.push({left:126.5,width:623.5,top:top,height:945});const xi=xA.length;
 xA.push(xAxisBase(g,'bottom',RED,{min:0,max:1,axisTick:{show:true,inside:true,length:24,customValues:[0,.2,.4,.6,.8,1],lineStyle:{color:RED,width:2}},axisLabel:{show:true,customValues:[0,.2,.4,.6,.8,1],fontFamily:F,fontSize:53,color:RED,margin:12},
  name:'{a|⟨}{i|k}{a|⟩ (m}{s|2}{a| s}{s|-2}{a|)}',nameLocation:'middle',nameGap:54,nameTextStyle:{rich:txt(53,RED)}}));
 xA.push(xAxisBase(g,'bottom',RED,{min:0,max:1,axisLine:{show:false},axisTick:{show:true,inside:true,length:14,customValues:rng(.05,.95,.05,v=>Math.round(v*20)%4===0),lineStyle:{color:RED,width:2}}}));
 xA.push(xAxisBase(g,'top',BLUE,{min:0,max:.005,axisTick:{show:true,inside:true,length:24,customValues:[.002,.004],lineStyle:{color:BLUE,width:2}},axisLabel:{show:true,customValues:[0,.002,.004],fontFamily:F,fontSize:53,color:BLUE,margin:6},
  name:'{a|⟨}{i|EDR}{a|⟩}{s|2}{a| (m}{s|2/3}{a| s}{s|-1}{a|)}{s|2}',nameLocation:'middle',nameGap:57,nameTextStyle:{rich:txt(53,BLUE)}}));
 xA.push(xAxisBase(g,'top',BLUE,{min:0,max:.005,axisLine:{show:false},axisTick:{show:true,inside:true,length:14,customValues:rng(.0005,.0045,.0005,v=>Math.round(v*10000)%20===0),lineStyle:{color:BLUE,width:2}}}));
 const yi=yAxes(g,true);
 series.push({type:'line',xAxisIndex:xi,yAxisIndex:yi,data:pairs(kD),showSymbol:false,animation:false,silent:true,lineStyle:{color:RED,width:2},clip:true,z:3});
 series.push({type:'line',xAxisIndex:xi+2,yAxisIndex:yi,data:pairs(eD,.005),showSymbol:false,animation:false,silent:true,lineStyle:{color:BLUE,width:2},clip:true,z:4});
 graphic.push({type:'text',x:23,y:top-109,z:10,style:{text:lab,rich:txt(53,'#000')}});
 graphic.push({type:'text',x:fl[0],y:fl[1],z:10,style:{text:fl[2],fontFamily:F,fontSize:53,fill:'#000',align:'center'}});
}
function heatPanel(top,rows,left,right,spots,streaks,labPos,lab){const g=grids.length;grids.push({left:852,width:1197,top:top,height:945});const xi=xA.length;
 const major=[1e-4,1e-3,1e-2,1e-1,1],minor=[];for(let e=-4;e<=.5001;e+=.2){const r=Math.round(e*5);if(r%5!==0)minor.push(Math.pow(10,e))}
 const lx=(pos,vals,len,label)=>({gridIndex:g,type:'log',logBase:10,position:pos,min:1e-4,max:Math.pow(10,.5),z:5,nameMoveOverlap:false,axisLine:{show:true,onZero:false,lineStyle:{color:'#000',width:2}},splitLine:{show:false},minorTick:{show:false},
  axisTick:{show:true,inside:true,length:len,customValues:vals,lineStyle:{color:'#000',width:2}},axisLabel:label?{show:true,customValues:labPos.map(e=>Math.pow(10,e)),showMinLabel:true,margin:9,fontFamily:F,hideOverlap:false,formatter:v=>{const lv=v>0?Math.log10(v):v;let b=0;labPos.forEach((e,i)=>{if(Math.abs(e-lv)<Math.abs(labPos[b]-lv))b=i});return '{b|10}{s|'+tickExponents[b]+'}'},rich:{b:{fontFamily:F,fontSize:53,lineHeight:64,verticalAlign:'bottom',color:'#000'},s:{fontFamily:F,fontSize:35,lineHeight:24,verticalAlign:'top',color:'#000'}}}:{show:false}});
 const xb=lx('bottom',major,24,true);xb.name='{a|κ}{u|l}{a| (rad m}{s|-1}{a|)}';xb.nameLocation='middle';xb.nameGap=54;xb.nameTextStyle={rich:txt(53,'#000')};
 xA.push(xb,lx('bottom',minor,14),lx('top',major,24),lx('top',minor,14));
 const yi=yAxes(g,false);
 const p10=e=>Math.pow(10,e);
 const bnd=(L,r)=>{const E=r[1],D=r[2],C=r[3],B=r[4],A=r[5],H=r[6];return ({1:H,2:A+.02,3:A-.08,4:(A+B)/2-.06,5:B-.04,6:B+(C-B)/3,7:B+2*(C-B)/3,8:C,9:(C+D)/2,10:D,11:(D+E)/2-.05,12:E-.1})[L]};
 const bandData=[[p10(-3),10,0]];for(let L=1;L<=12;L++)bandData.push([p10(-3),10,L]);
 const toPts=(api,f)=>{const o=[];for(let i=0;i<f.length;i+=2)o.push(api.coord([p10(f[i]),f[i+1]]));return o};
 const outline=api=>{const pL=toPts(api,left),pR=toPts(api,right);return pL.concat(pR.slice().reverse())};
 series.push({type:'custom',xAxisIndex:xi,yAxisIndex:yi,data:bandData,encode:{x:0,y:1},animation:false,silent:true,clip:true,z:2,renderItem:(p,api)=>{const L=api.value(2),ol=outline(api);
  if(L===0)return {type:'polygon',shape:{points:ol},style:{fill:levelColors[0]}};
  const pts=[api.coord([p10(-4.3),rows[0][0]])];rows.forEach(r=>pts.push(api.coord([p10(bnd(L,r)),r[0]])));pts.push(api.coord([p10(-4.3),0]));
  return {type:'polygon',shape:{points:pts},style:{fill:levelColors[L]},clipPath:{type:'polygon',shape:{points:ol}}}}});
 series.push({type:'custom',xAxisIndex:xi,yAxisIndex:yi,data:streaks.map(s=>[p10(s[0]),s[2],p10(s[1]),s[3]]),encode:{x:0,y:1},animation:false,silent:true,clip:true,z:3,renderItem:(p,api)=>{
  const a=api.coord([api.value(0),api.value(1)]),b=api.coord([api.value(2),api.value(1)]),L=api.value(3),cx=(a[0]+b[0])/2,rx=(b[0]-a[0])/2,ol=outline(api),ch=[];
  const col=l=>l<0?'#fff':levelColors[l];
  if(L>=6)ch.push({type:'ellipse',shape:{cx:cx,cy:a[1],rx:rx,ry:2.8},style:{fill:col(Math.max(3,L-3))}});
  ch.push({type:'ellipse',shape:{cx:cx,cy:a[1],rx:L>=6?rx*.75:rx,ry:1.7},style:{fill:col(L)}});
  return {type:'group',children:ch,clipPath:{type:'polygon',shape:{points:ol}}}}});
 series.push({type:'custom',xAxisIndex:xi,yAxisIndex:yi,data:spots.map(s=>{const w=s[0]>-2.7;return [p10(s[0]),s[1],s[2]||(w?.1:.08),s[3]||(w?.16:.3),s[4]===undefined?(w?5:9):s[4],s[5]===undefined?0:s[5]]}),encode:{x:0,y:1},animation:false,silent:true,clip:true,z:4,renderItem:(p,api)=>{
  const x=Math.log10(api.value(0)),z=api.value(1),rx=api.value(2),ry=api.value(3),f=api.value(4),t=api.value(5),c=api.coord([api.value(0),z]),dx=api.coord([p10(x+rx),z])[0]-c[0],dy=c[1]-api.coord([api.value(0),z+ry])[1],ol=outline(api),ch=[];
  const n=Math.max(1,Math.ceil(Math.abs(f-t)/2));for(let i=0;i<=n;i++){const q=i/n,sc=1-.78*q;const l=Math.round(f+(t-f)*q);ch.push({type:'ellipse',shape:{cx:c[0],cy:c[1],rx:dx*sc,ry:dy*sc},style:{fill:levelColors[l]}})}
  return {type:'group',children:ch,clipPath:{type:'polygon',shape:{points:ol}}}}});
 graphic.push({type:'text',x:860,y:top-109,z:10,style:{text:lab,rich:txt(53,'#000')}});
}
leftPanel(140,k1,edr1,'{a|(}{i|a}{a|)}',[428.6,182,'Flight 1']);
heatPanel(140,rowsB,leftB,rightB,holeSpots(holesB).concat(spotsB),streaksB.concat(fingersB),[-3.983,-3.148,-2.013,-1.032,-.017],'{a|(}{i|b}{a|)}');
leftPanel(1337,k2,edr2,'{a|(}{i|c}{a|)}',[428.6,1378,'Flight 2']);
heatPanel(1337,rowsD,leftD,rightD,holeSpots(holesD).concat(spotsD),streaksD.concat(fingersD),[-3.983,-3.013,-2.07,-1.017,-.058],'{a|(}{i|d}{a|)}');
leftPanel(2533,k3,edr3,'{a|(}{i|e}{a|)}',[620,2574,'Flight 3']);
heatPanel(2533,rowsF,leftF,rightF,holeSpots(holesF).concat(spotsF),streaksF.concat(fingersF),[-3.983,-3.036,-2.04,-1.032,-.036],'{a|(}{i|f}{a|)}');
// colour bar
const cg=grids.length;grids.push({left:969.6,width:948.4,top:171,height:75});const cx=xA.length;
xA.push({gridIndex:cg,type:'value',min:-3.125,max:.888,position:'bottom',z:5,axisLine:{show:false},splitLine:{show:false},axisTick:{show:true,inside:true,length:75,customValues:[-2.5,-2,-1.5,-1,-.5,0,.5],lineStyle:{color:'#222',width:2}},axisLabel:{show:true,customValues:[-3,-2.5,-2,-1.5,-1,-.5,0,.5],margin:20,fontFamily:F,fontSize:48,color:'#000'}});
yA.push({gridIndex:cg,type:'value',min:0,max:1,show:false});
series.push({type:'custom',xAxisIndex:cx,yAxisIndex:yA.length-1,data:levelColors.map((c,i)=>[cbarEdges[i],0,cbarEdges[i+1],1]),encode:{x:0,y:1},animation:false,silent:true,z:3,renderItem:(p,api)=>{const a=api.coord([api.value(0),0]),b=api.coord([api.value(2),1]);return {type:'rect',shape:{x:a[0],y:b[1],width:b[0]-a[0],height:a[1]-b[1]},style:{fill:levelColors[p.dataIndex]}}}});
graphic.push({type:'rect',z:1,shape:{x:909,y:157,width:1068.5,height:161},style:{fill:'none',stroke:'#000',lineWidth:2}});
const chart=echarts.init(document.getElementById('c'),null,{renderer:'canvas'});
chart.setOption({animation:false,backgroundColor:'#fff',grid:grids,xAxis:xA,yAxis:yA,series:series,graphic:graphic});
</script></body></html>
